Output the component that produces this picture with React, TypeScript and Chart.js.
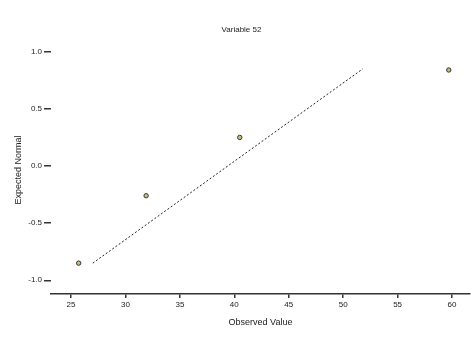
import React, { useEffect, useRef } from "react";
import { Chart, registerables } from "chart.js";

Chart.register(...registerables);

const titleText = "Variable 52";
const xAxisTitle = "Observed Value";
const yAxisTitle = "Expected Normal";
const observed = [25.7, 31.9, 40.5, 59.7];
const expected = [-0.85, -0.26, 0.25, 0.84];
const lineX = [27.0, 51.8];
const lineY = [-0.85, 0.85];
const xTicks = [25, 30, 35, 40, 45, 50, 55, 60];
const yTicks = [-1.0, -0.5, 0.0, 0.5, 1.0];

export default function App() {
  const ref = useRef<HTMLCanvasElement | null>(null);
  useEffect(() => {
    if (!ref.current) return;
    const font = { family: "'Liberation Sans', Arial, sans-serif", size: 8 };
    const chart = new Chart(ref.current, {
      type: "scatter",
      data: {
        datasets: [
          {
            type: "line",
            data: lineX.map((x, i) => ({ x, y: lineY[i] })),
            borderColor: "#222",
            borderWidth: 1,
            borderDash: [2, 2],
            pointRadius: 0,
            fill: false,
          } as any,
          {
            data: observed.map((x, i) => ({ x, y: expected[i] })),
            backgroundColor: "#c9c07e",
            borderColor: "#333",
            borderWidth: 1,
            pointRadius: 2.2,
          },
        ],
      },
      options: {
        animation: false,
        responsive: false,
        layout: { padding: { left: 13, right: 6, top: 0, bottom: 13 } },
        plugins: {
          legend: { display: false },
          tooltip: { enabled: false },
          title: {
            display: true,
            text: titleText,
            color: "#222",
            font: { ...font, weight: "normal" },
            padding: { top: 25, bottom: 11.4 },
          },
        },
        scales: {
          x: {
            type: "linear",
            min: 23.16,
            max: 61.65,
            afterBuildTicks: (s: any) => {
              s.ticks = xTicks.map((v) => ({ value: v }));
            },
            afterFit: (s: any) => {
              s.height = 34;
            },
            border: { display: true, color: "#333", width: 1.5 },
            grid: { drawOnChartArea: false, drawTicks: true, tickLength: 4, color: "#333", lineWidth: 1.5 },
            ticks: { color: "#222", font, padding: 2, maxRotation: 0, callback: (v: any) => String(v) },
            title: { display: true, text: xAxisTitle, color: "#222", font: { ...font, size: 9 }, padding: { top: 2, bottom: 0 } },
          },
          y: {
            type: "linear",
            min: -1.12,
            max: 1.05,
            afterBuildTicks: (s: any) => {
              s.ticks = yTicks.map((v) => ({ value: v }));
            },
            afterFit: (s: any) => {
              s.width = 38;
            },
            border: { display: false },
            grid: { drawOnChartArea: false, drawTicks: true, tickLength: 7, color: "#333", lineWidth: 1.5 },
            ticks: { color: "#222", font, padding: 2, callback: (v: any) => Number(v).toFixed(1) },
            title: { display: true, text: yAxisTitle, color: "#222", font: { ...font, size: 9 }, padding: { top: 0, bottom: 4 } },
          },
        },
      },
    });
    return () => chart.destroy();
  }, []);
  return (
    <div style={{ position: "absolute", left: 0, top: 0, width: 476, height: 341, background: "#fff" }}>
      <canvas ref={ref} width={476} height={341} style={{ width: 476, height: 341 }} />
    </div>
  );
}
